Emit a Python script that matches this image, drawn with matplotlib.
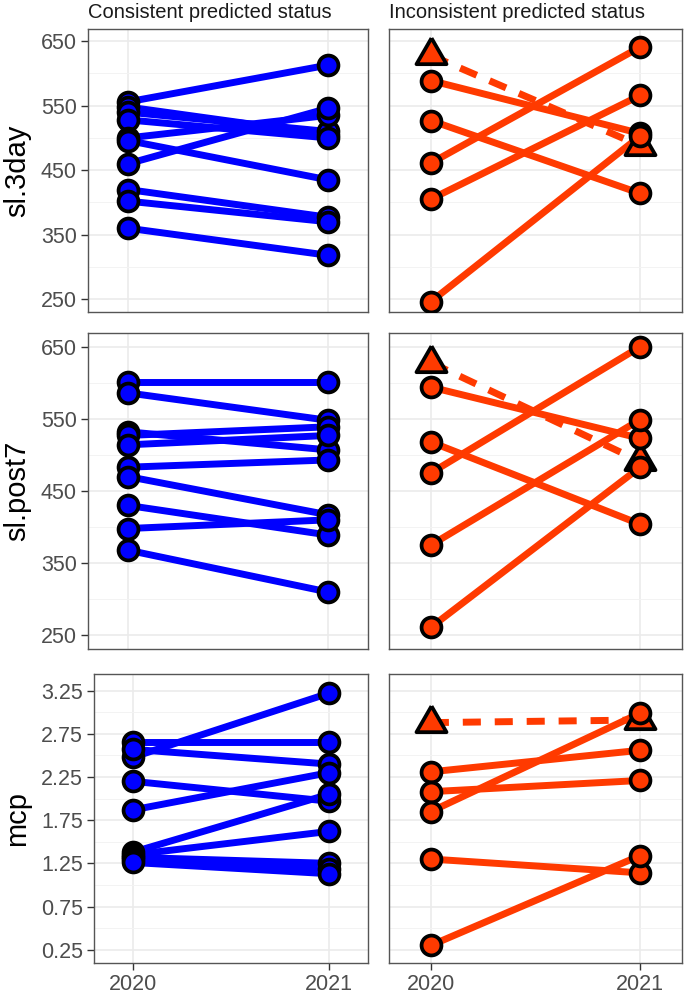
import numpy as np
import matplotlib.pyplot as plt
from matplotlib.markers import MarkerStyle

plt.rcParams['font.family'] = ['Liberation Sans', 'DejaVu Sans']

years = [2020, 2021]
metrics = ['sl.3day', 'sl.post7', 'mcp']
groups = ['Consistent predicted status', 'Inconsistent predicted status']

# consistent animals (2020 -> 2021)
sl3day_cons_2020 = [556, 548, 540, 528, 500, 496, 460, 420, 402, 360]
sl3day_cons_2021 = [613, 505, 510, 500, 535, 435, 546, 377, 370, 318]
slpost7_cons_2020 = [601, 586, 532, 527, 514, 483, 470, 430, 398, 368]
slpost7_cons_2021 = [601, 548, 507, 539, 527, 493, 417, 389, 410, 310]
mcp_cons_2020 = [2.48, 2.65, 2.57, 2.20, 1.87, 1.38, 1.35, 1.32, 1.30, 1.26]
mcp_cons_2021 = [3.22, 2.65, 2.40, 1.97, 2.30, 2.05, 1.62, 1.25, 1.19, 1.13]

# inconsistent animals
sl3day_inc_2020 = [589, 527, 461, 405, 246]
sl3day_inc_2021 = [507, 414, 641, 566, 503]
slpost7_inc_2020 = [594, 518, 475, 375, 261]
slpost7_inc_2021 = [523, 404, 650, 549, 483]
mcp_inc_2020 = [2.31, 2.08, 1.85, 1.30, 0.30]
mcp_inc_2021 = [2.56, 2.21, 2.99, 1.14, 1.34]

# triangle (dashed) animal
sl3day_tri = [628, 488]
slpost7_tri = [628, 491]
mcp_tri = [2.88, 2.91]

cons_data = [(sl3day_cons_2020, sl3day_cons_2021),
             (slpost7_cons_2020, slpost7_cons_2021),
             (mcp_cons_2020, mcp_cons_2021)]
inc_data = [(sl3day_inc_2020, sl3day_inc_2021),
            (slpost7_inc_2020, slpost7_inc_2021),
            (mcp_inc_2020, mcp_inc_2021)]
tri_data = [sl3day_tri, slpost7_tri, mcp_tri]

blue = '#0000FF'
red = '#FF3A00'

W, H = 685, 996
fig = plt.figure(figsize=(W / 100, H / 100), dpi=100)


def px_axes(x0, y0, x1, y1):
    return fig.add_axes([x0 / W, 1 - y1 / H, (x1 - x0) / W, (y1 - y0) / H])


# panel boxes in pixels: (left, top, right, bottom)
rows_y = [(29, 312), (333, 649), (674, 963)]
left_x = [(88, 368), (88, 368), (94, 368)]
right_x = (389, 682)

ylims = [(230, 669), (231, 669), (0.096, 3.443)]
yticks = [[250, 350, 450, 550, 650], [250, 350, 450, 550, 650],
          [0.25, 0.75, 1.25, 1.75, 2.25, 2.75, 3.25]]
yminor = [[300, 400, 500, 600], [300, 400, 500, 600],
          [0.5, 1.0, 1.5, 2.0, 2.5, 3.0]]
ylabels = [['250', '350', '450', '550', '650'], ['250', '350', '450', '550', '650'],
           ['0.25', '0.75', '1.25', '1.75', '2.25', '2.75', '3.25']]

tri = MarkerStyle([(0, 1), (-0.866, -0.5), (0.866, -0.5), (0, 1)], joinstyle='miter')

lw = 5.0
for r in range(3):
    y0, y1 = rows_y[r]
    for c in range(2):
        if c == 0:
            ax = px_axes(left_x[r][0], y0, left_x[r][1], y1)
        else:
            ax = px_axes(right_x[0], y0, right_x[1], y1)
        ax.set_xlim(2019.8, 2021.2)
        ax.set_ylim(*ylims[r])
        ax.set_xticks(years)
        ax.set_yticks(yticks[r])
        ax.set_yticks(yminor[r], minor=True)
        ax.set_axisbelow(True)
        ax.grid(which='major', color='#EBEBEB', lw=1.2)
        ax.grid(which='minor', axis='y', color='#F3F3F3', lw=0.7)
        for s in ax.spines.values():
            s.set_color('#555555')
            s.set_linewidth(1.0)
        ax.tick_params(which='minor', length=0)
        ax.tick_params(which='major', color='#333333', width=1.0, length=5,
                       labelsize=15.5, labelcolor='#4D4D4D', pad=3)
        if c == 0:
            ax.set_yticklabels(ylabels[r])
        else:
            ax.tick_params(axis='y', left=False, labelleft=False)
        if r == 2:
            ax.set_xticklabels([str(y) for y in years])
        else:
            ax.tick_params(axis='x', bottom=False, labelbottom=False)

        if c == 0:
            a, b = cons_data[r]
            col = blue
        else:
            a, b = inc_data[r]
            col = red
        for v0, v1 in zip(a, b):
            ax.plot(years, [v0, v1], color=col, lw=lw, solid_capstyle='butt', zorder=2)
        if c == 1:
            t = tri_data[r]
            ax.plot(years, t, color=col, lw=lw, linestyle=(0, (2.6, 2.0)),
                    dash_capstyle='butt', zorder=2)
            ax.plot(years, t, linestyle='none', marker=tri, ms=25, mfc=col,
                    mec='black', mew=2.7, zorder=3)
        ax.plot([2020] * len(a) + [2021] * len(b), list(a) + list(b), linestyle='none',
                marker='o', ms=14.3, mfc=col, mec='black', mew=2.7, zorder=4)

    fig.text(17 / W, 1 - ((y0 + y1) / 2) / H, metrics[r], rotation=90,
             ha='center', va='center', fontsize=21, color='black')

fig.text(88 / W, 1 - 12 / H, groups[0], ha='left', va='center', fontsize=14.5, color='#1A1A1A')
fig.text(389 / W, 1 - 12 / H, groups[1], ha='left', va='center', fontsize=14.5, color='#1A1A1A')

fig.savefig('out.png', dpi=100)
